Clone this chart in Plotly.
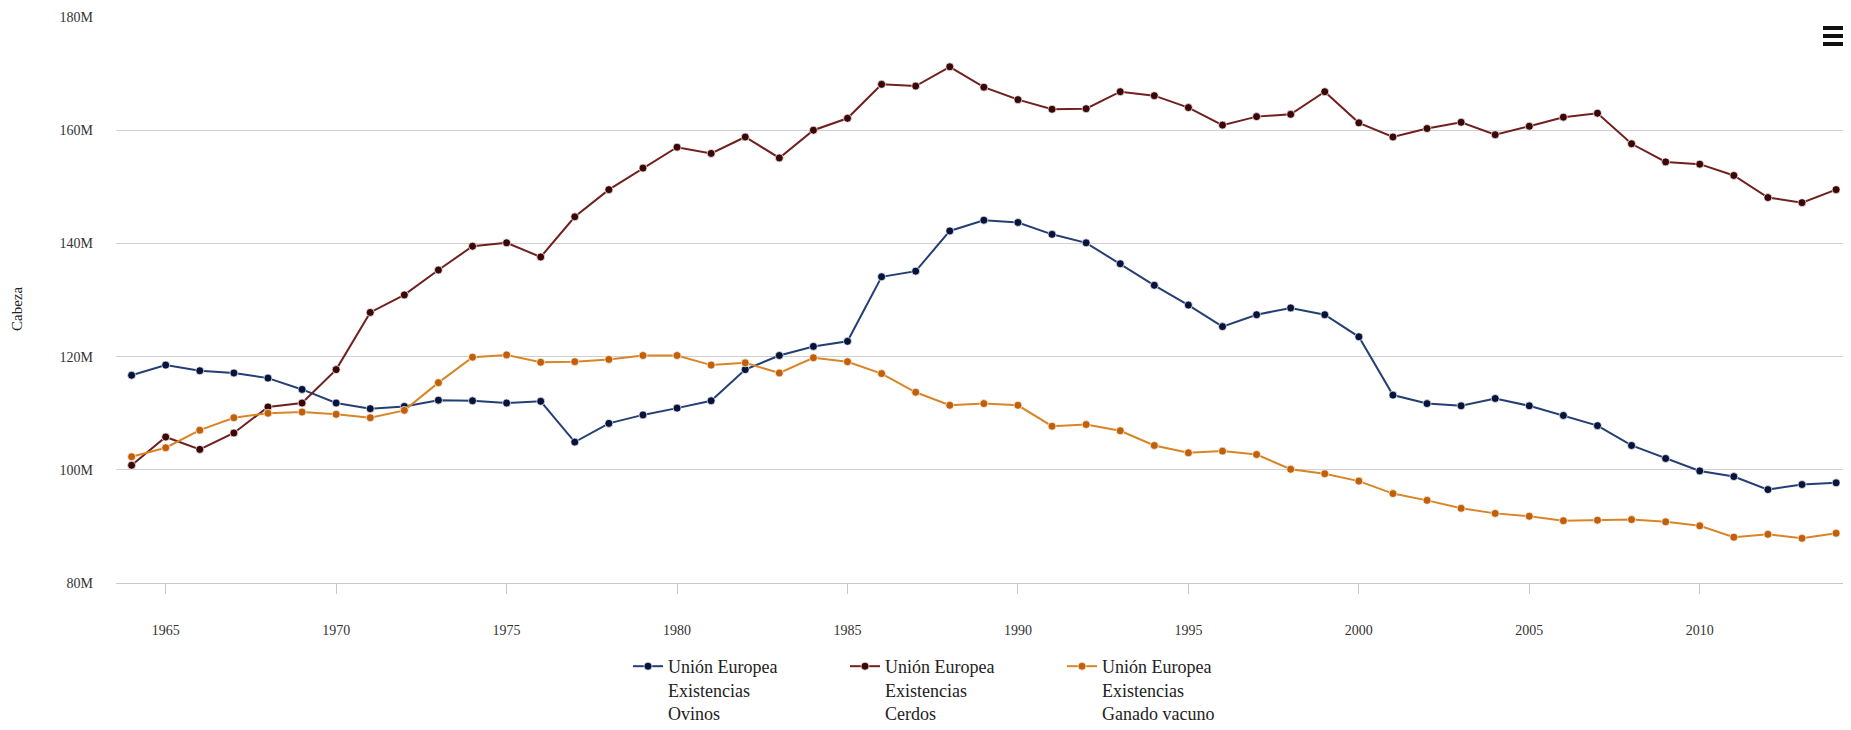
import plotly.graph_objects as go

years = [1964, 1965, 1966, 1967, 1968, 1969, 1970, 1971, 1972, 1973,
         1974, 1975, 1976, 1977, 1978, 1979, 1980, 1981, 1982, 1983,
         1984, 1985, 1986, 1987, 1988, 1989, 1990, 1991, 1992, 1993,
         1994, 1995, 1996, 1997, 1998, 1999, 2000, 2001, 2002, 2003,
         2004, 2005, 2006, 2007, 2008, 2009, 2010, 2011, 2012, 2013,
         2014]

# millions of head
ovinos = [116.7, 118.5, 117.5, 117.1, 116.2, 114.2, 111.8, 110.8, 111.2, 112.3,
          112.2, 111.8, 112.1, 104.9, 108.2, 109.7, 110.9, 112.2, 117.7, 120.2,
          121.8, 122.7, 134.1, 135.1, 142.2, 144.1, 143.7, 141.6, 140.1, 136.4,
          132.6, 129.1, 125.3, 127.4, 128.6, 127.4, 123.5, 113.2, 111.7, 111.3,
          112.6, 111.3, 109.6, 107.8, 104.3, 102.0, 99.8, 98.8, 96.5, 97.4,
          97.7]

cerdos = [100.8, 105.8, 103.6, 106.5, 111.1, 111.8, 117.7, 127.8, 130.9, 135.3,
          139.5, 140.1, 137.6, 144.7, 149.5, 153.3, 157.0, 155.9, 158.8, 155.1,
          160.0, 162.1, 168.1, 167.8, 171.2, 167.6, 165.4, 163.7, 163.8, 166.8,
          166.1, 164.0, 160.9, 162.4, 162.8, 166.8, 161.3, 158.8, 160.3, 161.4,
          159.2, 160.7, 162.3, 163.0, 157.6, 154.4, 154.0, 152.0, 148.1, 147.2,
          149.5]

vacuno = [102.3, 103.9, 107.0, 109.2, 110.0, 110.2, 109.8, 109.2, 110.5, 115.4,
          119.9, 120.3, 119.0, 119.1, 119.5, 120.2, 120.2, 118.5, 118.9, 117.1,
          119.8, 119.1, 117.0, 113.7, 111.4, 111.7, 111.4, 107.7, 108.0, 106.9,
          104.3, 103.0, 103.3, 102.7, 100.1, 99.3, 98.0, 95.8, 94.6, 93.2,
          92.3, 91.8, 91.0, 91.1, 91.2, 90.8, 90.1, 88.1, 88.6, 87.9,
          88.8]

series_names = ["Unión Europea<br>Existencias<br>Ovinos",
                "Unión Europea<br>Existencias<br>Cerdos",
                "Unión Europea<br>Existencias<br>Ganado vacuno"]

y_tickvals = [80, 100, 120, 140, 160, 180]
y_ticktext = ["80M", "100M", "120M", "140M", "160M", "180M"]
x_tickvals = [1965, 1970, 1975, 1980, 1985, 1990, 1995, 2000, 2005, 2010]
y_title = "Cabeza"

FONT = "Liberation Serif"
line_colors = ["#243f73", "#70201f", "#d98526"]
marker_colors = ["#06133d", "#3d0606", "#c2600a"]

fig = go.Figure()
for name, vals, lc, mc in zip(series_names, [ovinos, cerdos, vacuno], line_colors, marker_colors):
    fig.add_trace(go.Scatter(
        x=years, y=vals, name=name, mode="lines+markers",
        line=dict(color=lc, width=2),
        marker=dict(color=mc, size=8, line=dict(color="rgba(255,255,255,0.7)", width=1)),
    ))

# figure placed inside the page's 8px body margin
W, H = 1843, 722
L, R, T, B = 108, 0, 9, 147
pw = W - L - R
ph = H - T - B

def px_x(px):
    return (px - L) / pw

def px_y(py):
    return 1 - (py - T) / ph

fig.update_layout(
    width=W, height=H,
    margin=dict(l=L, r=R, t=T, b=B, autoexpand=False),
    paper_bgcolor="white", plot_bgcolor="white",
    font=dict(family=FONT, size=14, color="#333333"),
    showlegend=True,
    legend=dict(
        orientation="h", xref="container", yref="container",
        x=620 / W, y=1 - 640 / H, xanchor="left", yanchor="top",
        font=dict(family=FONT, size=18, color="#222222"),
        valign="top", itemwidth=30, traceorder="normal",
        entrywidth=172, entrywidthmode="pixels",
    ),
    xaxis=dict(
        range=[1963.542, 2014.437], tickvals=x_tickvals,
        showgrid=False, zeroline=False,
        showline=True, linecolor="#c8c8c8", linewidth=1,
        ticks="outside", ticklen=10, tickcolor="#c8c8c8", tickwidth=1,
        tickfont=dict(family=FONT, size=14, color="#333333"),
        ticklabelstandoff=24,
    ),
    yaxis=dict(
        range=[80, 180], tickvals=y_tickvals, ticktext=y_ticktext,
        showgrid=True, gridcolor="#d0d0d0", gridwidth=1,
        zeroline=False, showline=False, ticks="",
        tickfont=dict(family=FONT, size=14, color="#333333"),
        ticklabelstandoff=22,
    ),
    annotations=[dict(
        text=y_title, textangle=-90, xref="paper", yref="paper",
        x=px_x(9), y=px_y(301), xanchor="center", yanchor="middle", showarrow=False,
        font=dict(family=FONT, size=15, color="#222222"),
    )],
    shapes=[
        dict(type="line", xref="paper", yref="paper",
             x0=px_x(1815), x1=px_x(1840), y0=px_y(yy), y1=px_y(yy),
             line=dict(color="#111111", width=4))
        for yy in (20, 28, 36)
    ],
)

fig.write_html("out.html", config={"displayModeBar": False})
